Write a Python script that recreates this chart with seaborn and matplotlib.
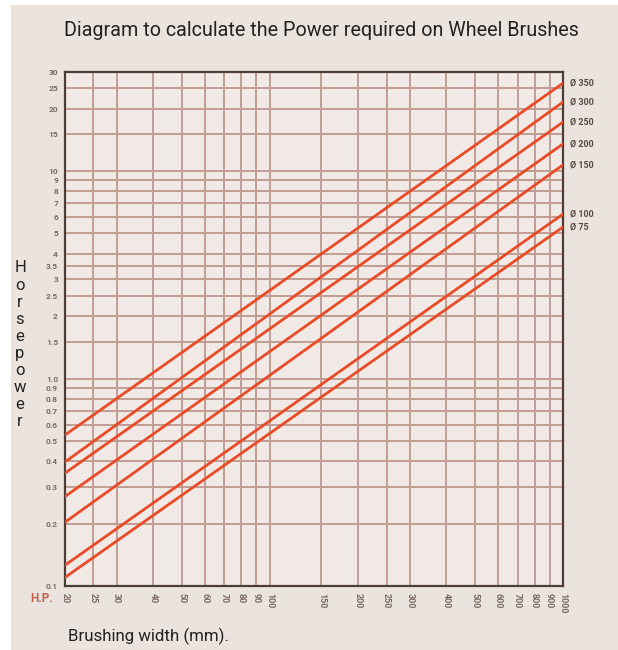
"""
Wheel brush power diagram - log/log chart of horsepower vs brushing width
"""
import numpy as np
import pandas as pd
import matplotlib
matplotlib.use('Agg')
import matplotlib.pyplot as plt
import seaborn as sns
from matplotlib.patches import Rectangle

# data: each brush diameter is a straight line in log/log
diameters = [350, 300, 250, 200, 150, 100, 75]
widths = [20, 1000]
hp_at_20 = [0.534, 0.396, 0.35, 0.27, 0.203, 0.126, 0.11]
hp_at_1000 = [26.5, 21.5, 17.2, 13.5, 10.7, 6.2, 5.37]

x_ticks = [20, 25, 30, 40, 50, 60, 70, 80, 90, 100, 150, 200, 250, 300,
           400, 500, 600, 700, 800, 900, 1000]
y_ticks = [0.1, 0.2, 0.3, 0.4, 0.5, 0.6, 0.7, 0.8, 0.9, 1.0, 1.5, 2, 2.5, 3,
           3.5, 4, 5, 6, 7, 8, 9, 10, 15, 20, 25, 30]
y_labels = ['0.1', '0.2', '0.3', '0.4', '0.5', '0.6', '0.7', '0.8', '0.9', '1.0',
            '1.5', '2', '2.5', '3', '3.5', '4', '5', '6', '7', '8', '9', '10',
            '15', '20', '25', '30']

rows = []
for d, a, b in zip(diameters, hp_at_20, hp_at_1000):
    rows.append({'dia': d, 'width': widths[0], 'hp': a})
    rows.append({'dia': d, 'width': widths[1], 'hp': b})
df = pd.DataFrame(rows)

BG = '#ebe4de'
PANEL = '#f1e9e5'
GRID = '#c19d93'
LINE = '#ea4b27'
TXT = '#7a6a64'

sns.set_theme(style='white')
plt.rcParams['font.family'] = ['Roboto', 'DejaVu Sans']

fig = plt.figure(figsize=(6.18, 6.5), dpi=100, facecolor='white')
fig.patches.append(Rectangle((11 / 618, 0), 1, 1 - 5 / 650, transform=fig.transFigure,
                             facecolor=BG, edgecolor='none', zorder=-10))

ax = fig.add_axes([65 / 618, 64 / 650, 498 / 618, 514 / 650])
ax.set_facecolor(PANEL)

sns.lineplot(data=df, x='width', y='hp', hue='dia', palette=[LINE] * len(diameters),
             legend=False, linewidth=2.0, ax=ax, zorder=3)

ax.set_xscale('log')
ax.set_yscale('log')
ax.set_xlim(20, 1000)
ax.set_ylim(0.1, 30)

ax.xaxis.set_major_locator(matplotlib.ticker.FixedLocator(x_ticks))
ax.xaxis.set_minor_locator(matplotlib.ticker.NullLocator())
ax.yaxis.set_major_locator(matplotlib.ticker.FixedLocator(y_ticks))
ax.yaxis.set_minor_locator(matplotlib.ticker.NullLocator())
ax.set_xticklabels([str(v) for v in x_ticks], rotation=270, fontsize=6.5,
                   color=TXT, fontweight='bold', va='top', ha='center')
ax.set_yticklabels(y_labels, fontsize=6, color=TXT, fontweight='bold')
ax.tick_params(axis='both', length=0, pad=5)
ax.set_xlabel('')
ax.set_ylabel('')

ax.grid(True, which='major', color=GRID, linewidth=1.4, zorder=1)
for s in ax.spines.values():
    s.set_color('#4d3d36')
    s.set_linewidth(1.6)

# diameter labels at the right end of each line
for d, v in zip(diameters, hp_at_1000):
    ax.text(1060, v, f'Ø {d}', fontsize=6.5, color='#5a4a44', fontweight='bold',
            va='center', ha='left', clip_on=False)

fig.text(321 / 618, 1 - 30 / 650, 'Diagram to calculate the Power required on Wheel Brushes',
         ha='center', va='center', fontsize=14.2, color='#222222')
fig.text(68 / 618, 1 - 636 / 650, 'Brushing width (mm).', ha='left', va='center',
         fontsize=12.2, color='#222222')
fig.text(42 / 618, 1 - 598 / 650, 'H.P.', ha='center', va='center', fontsize=8.5,
         color='#c0604a', fontweight='bold')

for i, ch in enumerate('Horsepower'):
    fig.text(20 / 618, 1 - (268 + i * 17.1) / 650, ch, ha='center', va='center',
             fontsize=12, color='#222222')

fig.savefig('out.png', dpi=100, facecolor=fig.get_facecolor())
